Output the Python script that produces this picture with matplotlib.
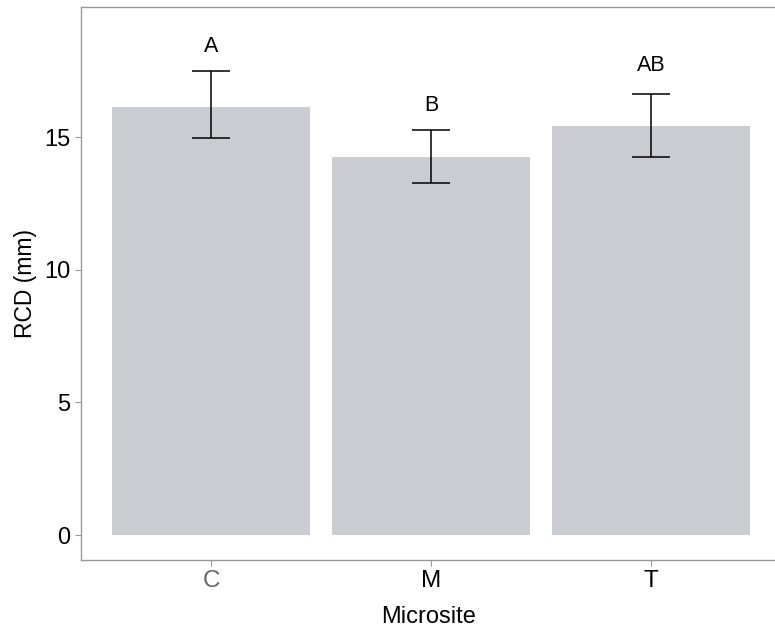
import matplotlib
matplotlib.use("Agg")
import matplotlib.pyplot as plt

categories = ["C", "M", "T"]
means = [16.15, 14.26, 15.4]
err_low = [14.98, 13.25, 14.23]
err_high = [17.47, 15.25, 16.62]
letters = ["A", "B", "AB"]
letter_y = [18.4, 16.2, 17.7]
y_ticks = [0, 5, 10, 15]

plt.rcParams['font.family'] = ['Liberation Sans', 'DejaVu Sans']

fig = plt.figure(figsize=(7.75, 6.3), dpi=100)
ax = fig.add_axes([81/775, 1 - 560/630, 1 - 81/775 + 0.002, (560 - 7)/630])

x = list(range(1, len(categories) + 1))
ax.bar(x, means, width=0.9, color="#c9ccd0", edgecolor="none")

yerr = [[m - l for m, l in zip(means, err_low)], [h - m for m, h in zip(means, err_high)]]
ax.errorbar(x, means, yerr=yerr, fmt="none", ecolor="black", elinewidth=1.1,
            capsize=14, capthick=1.1)

for xi, lab, ly in zip(x, letters, letter_y):
    ax.text(xi, ly, lab, ha="center", va="center", fontsize=15.5, color="black")

ax.set_xlim(0.408, 3.57)
ax.set_ylim(-0.94, 19.9)
ax.set_xticks(x)
ax.set_xticklabels(categories, fontsize=17.5)
ax.set_yticks(y_ticks)
ax.set_yticklabels([str(t) for t in y_ticks], fontsize=17)
ax.tick_params(axis="both", colors="#999999", length=4, width=0.8, labelcolor="black")
ax.tick_params(axis="x", pad=3)
ax.get_xticklabels()[0].set_color("#666666")
ax.set_xlabel("Microsite", fontsize=17, labelpad=10)
ax.set_ylabel("RCD (mm)", fontsize=16.5, labelpad=5)
for s in ax.spines.values():
    s.set_color("#999999")
    s.set_linewidth(1.0)

fig.savefig("out.png", dpi=100)
